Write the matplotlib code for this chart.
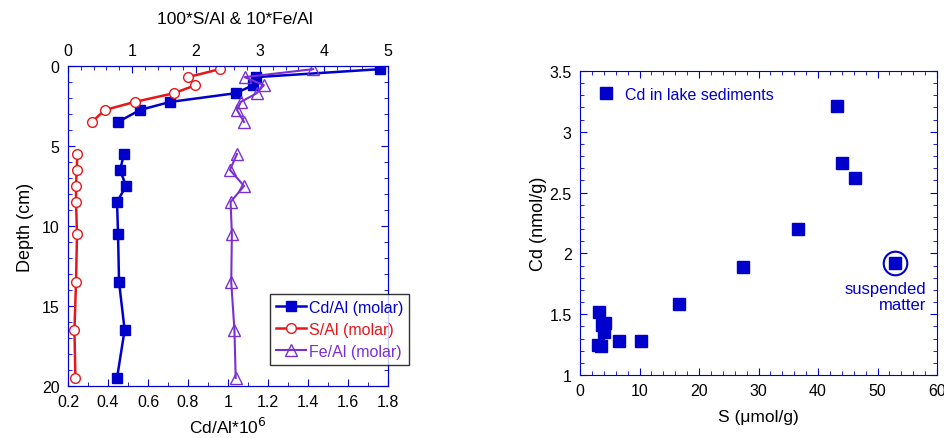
import numpy as np
import matplotlib.pyplot as plt
from matplotlib.ticker import MultipleLocator

plt.rcParams['font.family'] = ['Liberation Sans', 'DejaVu Sans']

blue = "#0000cc"
red = "#e8161a"
purple = "#7a30d0"

# depth profiles (NaN = gap between the two cores)
depth = [0.2, 0.7, 1.2, 1.7, 2.25, 2.75, 3.5, np.nan, 5.5, 6.5, 7.5, 8.5, 10.5, 13.5, 16.5, 19.5]
cd_al = [1.76, 1.14, 1.125, 1.04, 0.71, 0.56, 0.45, np.nan, 0.48, 0.46, 0.49, 0.445, 0.45, 0.455, 0.483, 0.445]
s_al = [2.37, 1.875, 1.99, 1.66, 1.04, 0.58, 0.37, np.nan, 0.146, 0.135, 0.125, 0.125, 0.14, 0.125, 0.10, 0.115]
fe_al = [3.83, 2.76, 3.06, 2.95, 2.70, 2.64, 2.75, np.nan, 2.64, 2.53, 2.75, 2.54, 2.56, 2.55, 2.60, 2.62]

# scatter: Cd vs S in lake sediments
s_sed = [43.2, 44.0, 46.2, 36.6, 27.4, 16.6, 3.15, 4.15, 3.77, 4.04, 3.03, 3.48, 6.6, 10.2]
cd_sed = [3.21, 2.74, 2.62, 2.20, 1.89, 1.58, 1.52, 1.43, 1.41, 1.355, 1.247, 1.24, 1.278, 1.278]
s_susp = [53.0]
cd_susp = [1.92]

fig = plt.figure(figsize=(9.45, 4.39), dpi=100)

ax = fig.add_axes([0.072, 0.1185, 0.3386, 0.729])
ax.plot(cd_al, depth, color=blue, lw=1.8, marker="s", ms=7, label="Cd/Al (molar)")
ax.set_xlim(0.2, 1.8)
ax.set_ylim(20, 0)
ax.xaxis.set_minor_locator(MultipleLocator(0.1))
ax.yaxis.set_major_locator(MultipleLocator(5))
ax.yaxis.set_minor_locator(MultipleLocator(1))
ax.set_xticks([0.2, 0.4, 0.6, 0.8, 1.0, 1.2, 1.4, 1.6, 1.8])
ax.set_xticklabels(["0.2", "0.4", "0.6", "0.8", "1", "1.2", "1.4", "1.6", "1.8"])
ax.set_xlabel("Cd/Al*10$^6$", fontsize=12.5, labelpad=5)
ax.set_ylabel("Depth (cm)", fontsize=13, labelpad=6)

ax2 = ax.twiny()
ax2.plot(s_al, depth, color=red, lw=1.8, marker="o", ms=7, mfc="white", mec=red, label="S/Al (molar)")
ax2.plot(fe_al, depth, color=purple, lw=1.5, marker="^", ms=8, mfc="none", mec=purple, label="Fe/Al (molar)")
ax2.set_xlim(0, 5)
ax2.set_ylim(20, 0)
ax2.xaxis.set_major_locator(MultipleLocator(1))
ax2.xaxis.set_minor_locator(MultipleLocator(0.2))
ax2.set_xlabel("100*S/Al & 10*Fe/Al", fontsize=12.5, labelpad=14)
ax2.xaxis.label.set_x(0.52)

for a in (ax, ax2):
    for sp in a.spines.values():
        sp.set_color(blue)
    a.tick_params(which="both", direction="in", color=blue, labelsize=11.5)
    a.tick_params(which="major", length=5, pad=6)
    a.tick_params(which="minor", length=3)
ax.tick_params(which="both", right=True, top=False)
ax2.tick_params(which="both", top=True, bottom=False)

h1, l1 = ax.get_legend_handles_labels()
h2, l2 = ax2.get_legend_handles_labels()
leg = fig.legend(h1 + h2, l1 + l2, loc="upper left", bbox_to_anchor=(270 / 945, 1 - 295 / 439),
                 fontsize=11.5, frameon=True, fancybox=False, edgecolor="black",
                 handlelength=1.9, handletextpad=0.2, borderpad=0.35, borderaxespad=0,
                 labelspacing=0.45)
leg.get_frame().set_linewidth(1.0)
for txt, c in zip(leg.get_texts(), [blue, red, purple]):
    txt.set_color(c)

# right panel
bx = fig.add_axes([0.6138, 0.1435, 0.3778, 0.6925])
bx.plot(s_sed, cd_sed, ls="none", marker="s", ms=8, color=blue, label="Cd in lake sediments")
bx.plot(s_susp, cd_susp, ls="none", marker="s", ms=8, color=blue)
bx.plot(s_susp, cd_susp, ls="none", marker="o", ms=17, mfc="none", mec=blue, mew=1.5)
bx.text(58.2, 1.645, "suspended\nmatter", color=blue, fontsize=12, ha="right", va="center",
        multialignment="right", linespacing=1.1)
bx.set_xlim(0, 60)
bx.set_ylim(1, 3.5)
bx.xaxis.set_major_locator(MultipleLocator(10))
bx.xaxis.set_minor_locator(MultipleLocator(2))
bx.yaxis.set_minor_locator(MultipleLocator(0.1))
bx.set_yticks([1, 1.5, 2, 2.5, 3, 3.5])
bx.set_yticklabels(["1", "1.5", "2", "2.5", "3", "3.5"])
bx.set_xlabel("S (\u03bcmol/g)", fontsize=12.5, labelpad=8)
bx.set_ylabel("Cd (nmol/g)", fontsize=13, labelpad=2)
for sp in bx.spines.values():
    sp.set_color(blue)
bx.tick_params(which="both", direction="in", color=blue, labelsize=11.5, top=True, right=True)
bx.tick_params(which="major", length=5, pad=6)
bx.tick_params(which="minor", length=3)
leg2 = bx.legend(loc="upper left", frameon=False, fontsize=11.5, handletextpad=0.6,
                 borderaxespad=0.6, handlelength=1.2)
for txt in leg2.get_texts():
    txt.set_color(blue)

fig.savefig("out.png", dpi=100)
